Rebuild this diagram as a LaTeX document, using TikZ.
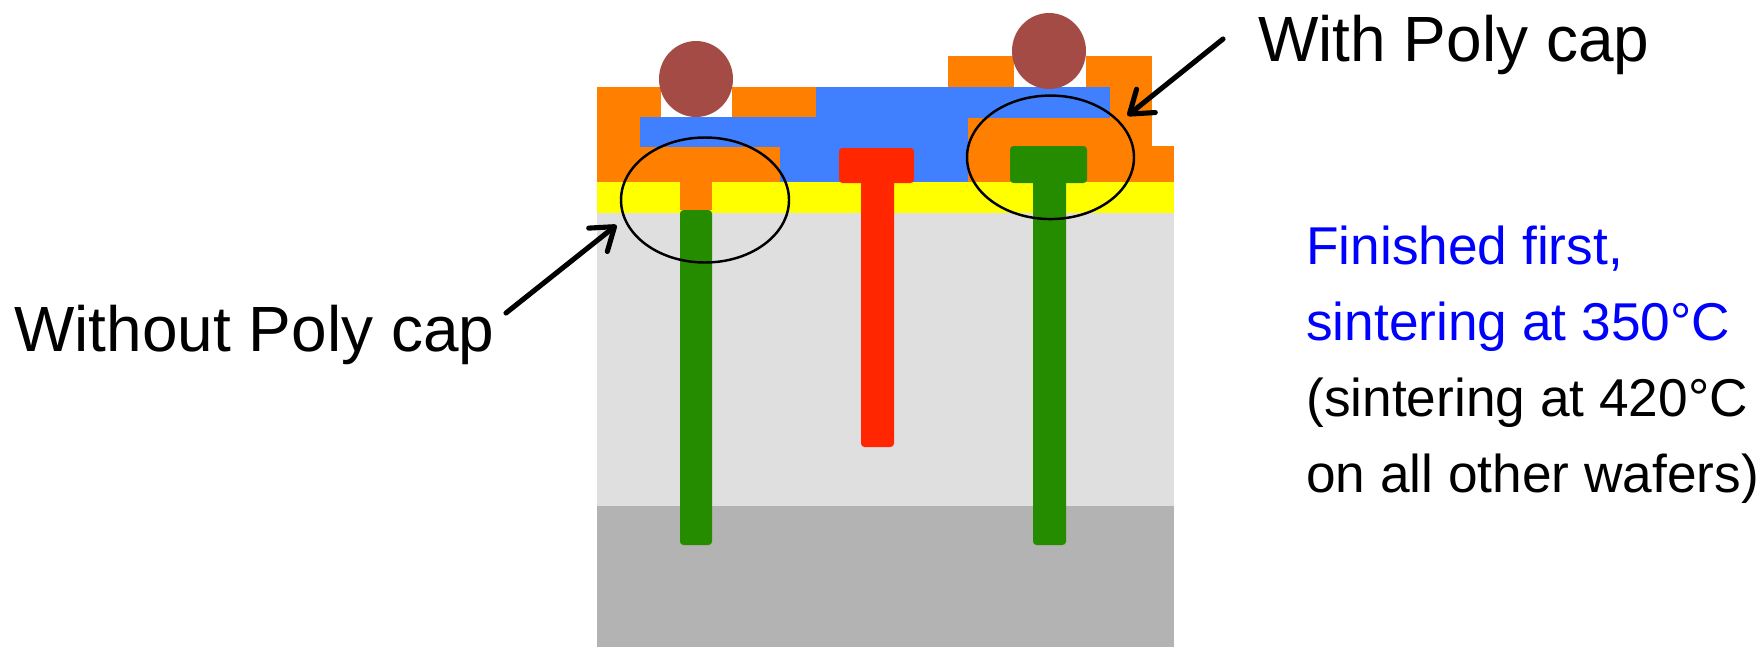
\documentclass[tikz,border=0pt]{standalone}
\usepackage{fontspec}
\setmainfont{Liberation Sans}
\usetikzlibrary{arrows.meta, shapes.geometric}
\definecolor{capOrange}{RGB}{255, 127, 0}
\definecolor{metalBlue}{RGB}{64, 128, 255}
\definecolor{oxideGray}{RGB}{223, 223, 223}
\definecolor{bulkGray}{RGB}{179, 179, 179}
\definecolor{viaGreen}{RGB}{37, 140, 0}
\definecolor{viaRed}{RGB}{255, 38, 0}
\definecolor{bumpBrown}{RGB}{165, 75, 69}
\definecolor{noteBlue}{RGB}{0, 0, 255}
\definecolor{layerYellow}{RGB}{255, 255, 0}
\tikzset{
    ring/.style={draw=black, line width=1.4pt, ellipse, inner sep=0pt, outer sep=0pt},
    pointer/.style={-{Straight Barb[round, length=12pt, width=17pt]}, line width=2.9pt, line cap=round, shorten >=6pt},
    bigtext/.style={font=\fontsize{36.4}{44}\selectfont, inner sep=0pt},
    notetext/.style={font=\fontsize{30.3}{43.2}\selectfont, inner sep=0pt, align=left}
}

\begin{document}
\begin{tikzpicture}[x=0.02cm, y=-0.02cm, >=Stealth]
    \useasboundingbox (0,0) rectangle (1762,647);
    % wafer stack
    \fill[bulkGray] (597,506) rectangle (1174,647);
    \fill[oxideGray] (597,213) rectangle (1174,506);
    \fill[layerYellow] (597,182) rectangle (1174,213);
    % orange layers
    \fill[capOrange] (597,87) rectangle (816,182);
    \fill[capOrange] (948,56) rectangle (1152,182);
    \fill[capOrange] (1152,146) rectangle (1174,182);
    % blue layers
    \fill[metalBlue] (816,87) rectangle (1110,117);
    \fill[metalBlue] (640,117) rectangle (1110,147);
    \fill[metalBlue] (780,147) rectangle (968,182);
    \fill[capOrange] (968,118) rectangle (1110,147);
    % bumps
    \fill[white] (661,87) rectangle (732,117);
    \fill[white] (1014,56) rectangle (1086,87);
    \fill[bumpBrown] (696,79) ellipse (37 and 38);
    \fill[bumpBrown] (1049,51) ellipse (37 and 38);
    % vias
    \fill[viaRed, rounded corners=2] (839,148) rectangle (914,183);
    \fill[viaRed, rounded corners=2] (861,175) rectangle (894,447);
    \fill[capOrange] (680,182) rectangle (712,210);
    \fill[viaGreen, rounded corners=2] (680,210) rectangle (712,545);
    \fill[viaGreen, rounded corners=2] (1010,146) rectangle (1087,183);
    \fill[viaGreen, rounded corners=2] (1033,175) rectangle (1066,545);
    % circled regions
    \node[ring, minimum width=168*0.02cm, minimum height=125*0.02cm] (polyno) at (705,200) {};
    \node[ring, minimum width=167*0.02cm, minimum height=123.5*0.02cm] (polycap) at (1050.5,157.3) {};
    % labels
    \node[bigtext, anchor=base west] (capnote) at (1258,61) {With Poly cap};
    \node[bigtext, anchor=base west] (nocapnote) at (14,351) {Without Poly cap};
    \node[notetext, anchor=north west] (sinternote) at (1306,226) {\textcolor{noteBlue}{Finished first,}\\\textcolor{noteBlue}{sintering at 350°C}\\(sintering at 420°C\\on all other wafers)};
    % arrows
    \coordinate (captail) at (1223,39);
    \coordinate (nocaptail) at (506,313);
    \draw[pointer] (captail) -- (polycap.27);
    \draw[pointer] (nocaptail) -- (polyno.193);
\end{tikzpicture}
\end{document}
